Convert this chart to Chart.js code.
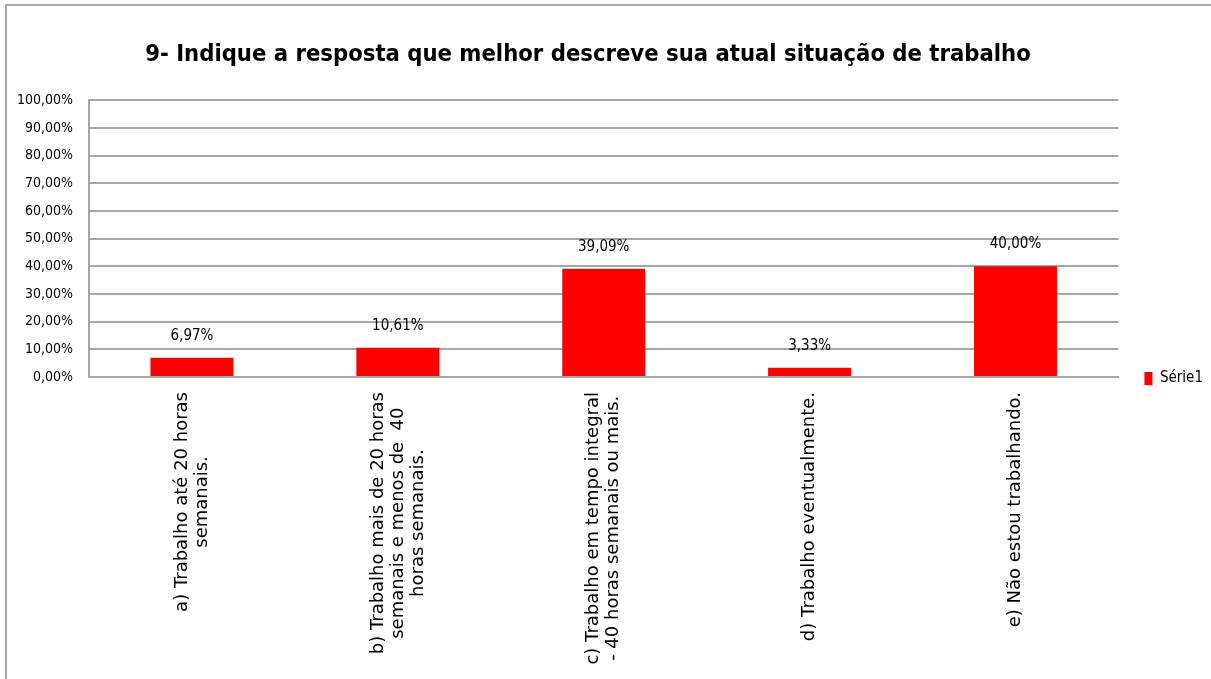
<!DOCTYPE html>
<html lang="pt">
<head>
<meta charset="UTF-8" />
<title>9- Indique a resposta que melhor descreve sua atual situação de trabalho</title>
<script src="https://cdn.jsdelivr.net/npm/chart.js"></script>
<style>
  html, body { margin: 0; padding: 0; background: #fff; }
  .frame {
    position: absolute; left: 5px; top: 4px;
    width: 1204px; height: 673px;
    border-left: 2px solid #a6a6a6; border-top: 2px solid #a6a6a6;
  }
</style>
</head>
<body>
<div class="frame"><canvas id="chart"></canvas></div>
<script>
// dados
const chartTitle = "9- Indique a resposta que melhor descreve sua atual situação de trabalho";
const categories = [
  ["a) Trabalho até 20 horas", "semanais."],
  ["b) Trabalho mais de 20 horas", "semanais e menos de  40", "horas semanais."],
  ["c) Trabalho em tempo integral", "- 40 horas semanais ou mais."],
  ["d) Trabalho eventualmente."],
  ["e) Não estou trabalhando."]
];
const serie1 = [6.97, 10.61, 39.09, 3.33, 40.00];
const yTickValues = [0, 10, 20, 30, 40, 50, 60, 70, 80, 90, 100];

const narrow = "'Liberation Sans Narrow', 'DejaVu Sans Condensed', sans-serif";
const pct = v => v.toFixed(2).replace(".", ",") + "%";

// rótulos do eixo x, rodados e centrados como no Excel
const xLabels = {
  id: "xLabels",
  afterDraw(chart) {
    const sx = chart.scales.x, ctx = chart.ctx;
    ctx.save();
    ctx.font = "18px 'DejaVu Sans'";
    ctx.fillStyle = "#000";
    ctx.textAlign = "center";
    ctx.textBaseline = "middle";
    chart.data.labels.forEach((lines, i) => {
      const px = sx.getPixelForValue(i);
      const widest = Math.max(...lines.map(l => ctx.measureText(l).width));
      const cy = sx.top + 15 + widest / 2;
      lines.forEach((line, j) => {
        ctx.save();
        ctx.translate(px + (j - (lines.length - 1) / 2) * 20, cy);
        ctx.rotate(-Math.PI / 2);
        ctx.fillText(line, 0, 0);
        ctx.restore();
      });
    });
    ctx.restore();
  }
};

// valores em cima das barras
const barValues = {
  id: "barValues",
  afterDatasetsDraw(chart) {
    const ctx = chart.ctx;
    ctx.save();
    ctx.font = "15px " + narrow;
    ctx.fillStyle = "#000";
    ctx.textAlign = "center";
    ctx.textBaseline = "middle";
    chart.getDatasetMeta(0).data.forEach((bar, i) => {
      ctx.fillText(pct(serie1[i]), bar.x, bar.y - 22);
    });
    ctx.restore();
  }
};

// pequenos ajustes de posição do título e da legenda
const nudge = {
  id: "nudge",
  afterLayout(chart) {
    chart.titleBlock.left -= 22;
    chart.titleBlock.right -= 22;
    chart.legend.top += 36;
    chart.legend.bottom += 36;
  }
};

new Chart(document.getElementById("chart"), {
  type: "bar",
  data: {
    labels: categories,
    datasets: [{
      label: "Série1",
      data: serie1,
      backgroundColor: "#ff0000",
      categoryPercentage: 1,
      barPercentage: 0.403
    }]
  },
  options: {
    responsive: true,
    maintainAspectRatio: false,
    animation: false,
    layout: { padding: { left: 0, right: -2, top: 0, bottom: 0 } },
    plugins: {
      tooltip: { enabled: false },
      title: {
        display: true,
        text: chartTitle,
        color: "#000",
        font: { family: narrow, size: 23.6, weight: "bold" },
        padding: { top: 35, bottom: 31 }
      },
      legend: {
        position: "right",
        align: "center",
        labels: {
          boxWidth: 8,
          boxHeight: 13,
          padding: 26,
          color: "#000",
          font: { family: narrow, size: 15 }
        }
      }
    },
    scales: {
      x: {
        grid: { display: false },
        border: { display: true, color: "#a6a6a6", width: 2 },
        ticks: { display: false },
        afterFit: s => { s.height = 302; }
      },
      y: {
        min: 0,
        max: 100,
        afterBuildTicks: s => { s.ticks = yTickValues.map(v => ({ value: v })); },
        grid: { color: "#a6a6a6", lineWidth: 2, drawTicks: false },
        border: { display: true, color: "#a6a6a6", width: 2 },
        ticks: {
          padding: 16,
          color: "#000",
          font: { family: narrow, size: 14 },
          callback: v => pct(v)
        },
        afterFit: s => { s.width = 82; }
      }
    }
  },
  plugins: [xLabels, barValues, nudge]
});
</script>
</body>
</html>
